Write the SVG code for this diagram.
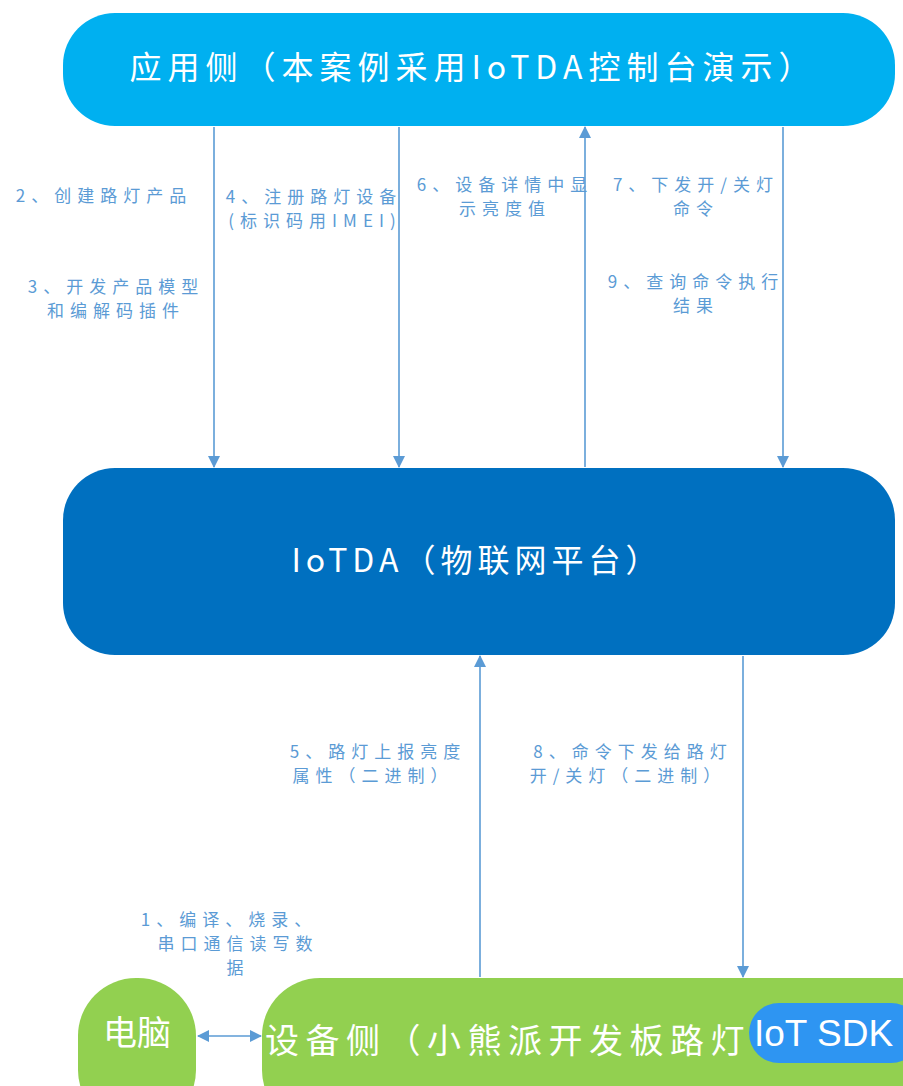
<svg xmlns="http://www.w3.org/2000/svg" width="903" height="1086" viewBox="0 0 903 1086">
<defs>
<style>
.lbl{font-family:"Noto Sans CJK SC","Liberation Sans",sans-serif;font-size:17px;fill:#5B9BD5;text-anchor:middle;letter-spacing:6px}
.big{font-family:"Noto Sans CJK SC","Liberation Sans",sans-serif;fill:#FFFFFF;text-anchor:middle}
.ln{stroke:#5B9BD5;stroke-width:1.6;fill:none}
</style>
<marker id="ah" viewBox="0 0 12 12" refX="11" refY="6" markerWidth="12" markerHeight="12" markerUnits="userSpaceOnUse" orient="auto-start-reverse">
<path d="M0,0 L12,6 L0,12 z" fill="#5B9BD5"/>
</marker>
</defs>
<rect width="903" height="1086" fill="#FFFFFF"/>
<g id="app">
<rect x="63" y="13" width="832" height="113" rx="52" fill="#00B0F0"/>
<text class="big" x="473" y="79" font-size="32" letter-spacing="6">应用侧（本案例采用IoTDA控制台演示）</text>
</g>
<g id="iotda">
<rect x="63" y="468" width="832" height="187" rx="52" fill="#0070C0"/>
<text class="big" x="477" y="572" font-size="32" letter-spacing="5">IoTDA（物联网平台）</text>
</g>
<g id="pc">
<rect x="78" y="978" width="118" height="150" rx="58" fill="#92D050"/>
<text class="big" x="137" y="1045" font-size="34">电脑</text>
</g>
<g id="device">
<rect x="262" y="978" width="700" height="150" rx="58" fill="#92D050"/>
<text class="big" x="508" y="1053" font-size="34" letter-spacing="6.5">设备侧（小熊派开发板路灯</text>
</g>
<g id="sdk">
<rect x="749" y="1003" width="172" height="60" rx="30" fill="#2E95F2"/>
<text x="754" y="1046" font-family="Liberation Sans, Arial, sans-serif" font-size="37" fill="#FFFFFF">IoT SDK</text>
</g>
<g id="connectors">
<line class="ln" x1="214" y1="127" x2="214" y2="467" marker-end="url(#ah)"/>
<line class="ln" x1="399" y1="127" x2="399" y2="467" marker-end="url(#ah)"/>
<line class="ln" x1="585" y1="467" x2="585" y2="127" marker-end="url(#ah)"/>
<line class="ln" x1="783" y1="127" x2="783" y2="467" marker-end="url(#ah)"/>
<line class="ln" x1="480" y1="977" x2="480" y2="656" marker-end="url(#ah)"/>
<line class="ln" x1="743" y1="656" x2="743" y2="977" marker-end="url(#ah)"/>
<line class="ln" x1="198" y1="1036" x2="261" y2="1036" marker-start="url(#ah)" marker-end="url(#ah)"/>
</g>
<g id="labels">
<text class="lbl" x="104" y="202">2、创建路灯产品</text>
<text class="lbl"><tspan x="314" y="203">4、注册路灯设备</tspan><tspan x="315" y="227">(标识码用IMEI)</tspan></text>
<text class="lbl"><tspan x="116" y="293">3、开发产品模型</tspan><tspan x="116" y="317">和编解码插件</tspan></text>
<text class="lbl"><tspan x="505" y="191">6、设备详情中显</tspan><tspan x="505" y="215">示亮度值</tspan></text>
<text class="lbl"><tspan x="696" y="191">7、下发开/关灯</tspan><tspan x="696" y="215">命令</tspan></text>
<text class="lbl"><tspan x="696" y="288">9、查询命令执行</tspan><tspan x="696" y="312">结果</tspan></text>
<text class="lbl"><tspan x="378" y="758">5、路灯上报亮度</tspan><tspan x="373" y="782">属性（二进制）</tspan></text>
<text class="lbl"><tspan x="633" y="758">8、命令下发给路灯</tspan><tspan x="628" y="782">开/关灯（二进制）</tspan></text>
<text class="lbl"><tspan x="229" y="926">1、编译、烧录、</tspan><tspan x="238" y="950">串口通信读写数</tspan><tspan x="238" y="974">据</tspan></text>
</g>
</svg>
